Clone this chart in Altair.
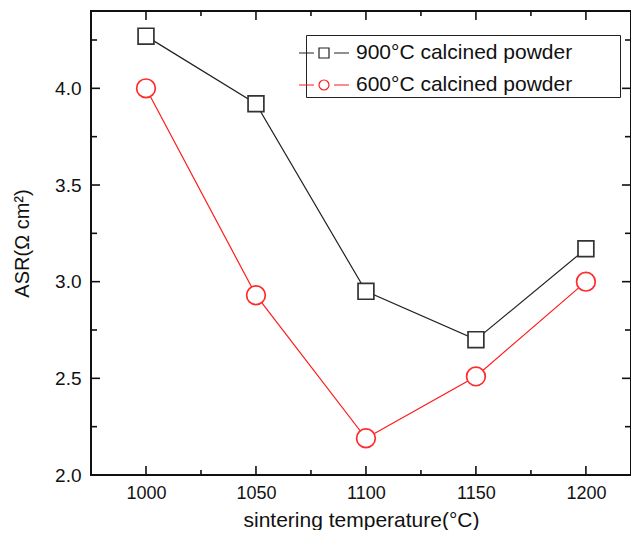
import altair as alt
import pandas as pd

temps = [1000, 1050, 1100, 1150, 1200]
asr_900 = [4.27, 3.92, 2.95, 2.70, 3.17]
asr_600 = [4.00, 2.93, 2.19, 2.51, 3.00]
series_names = ["900°C calcined powder", "600°C calcined powder"]
x_major = [1000, 1050, 1100, 1150, 1200]
x_minor = [1025, 1075, 1125, 1175]
y_major = [2.0, 2.5, 3.0, 3.5, 4.0]
y_minor = [2.25, 2.75, 3.25, 3.75, 4.25]

rows = []
for name, vals in zip(series_names, [asr_900, asr_600]):
    for t, v in zip(temps, vals):
        rows.append({"temp": t, "asr": v, "series": name})
df = pd.DataFrame(rows)

W, H = 540, 464
FONT = "Liberation Sans"
TXT = "#111111"
xscale = alt.Scale(domain=[975, 1220.5], nice=False, zero=False)
yscale = alt.Scale(domain=[2.0, 4.4], nice=False, zero=False)

line_colors = ["#222222", "#ff1a1a"]
marker_colors = ["#333333", "#ff2a2a"]

x_axis = alt.Axis(values=x_major, format="d", title="sintering temperature(°C)",
                  ticks=False, tickSize=0, domain=False, grid=False,
                  labelFont=FONT, labelFontSize=18, labelColor=TXT,
                  labelPadding=9, labelFlush=False,
                  titleFont=FONT, titleFontSize=21, titleFontWeight="normal",
                  titleColor=TXT, titlePadding=7)
y_axis = alt.Axis(values=y_major, format=".1f", title="ASR(Ω cm²)",
                  ticks=False, tickSize=0, domain=False, grid=False,
                  labelFont=FONT, labelFontSize=19, labelColor=TXT,
                  labelPadding=10, labelFlush=False,
                  titleFont=FONT, titleFontSize=20, titleFontWeight="normal",
                  titleColor=TXT, titlePadding=22)


def xe():
    return alt.X("temp:Q", scale=xscale, axis=x_axis)


def ye():
    return alt.Y("asr:Q", scale=yscale, axis=y_axis)


lines = alt.Chart(df).mark_line(strokeWidth=1.2).encode(
    x=xe(), y=ye(),
    stroke=alt.Stroke("series:N", scale=alt.Scale(domain=series_names, range=line_colors), legend=None),
    detail="series:N",
)

points = alt.Chart(df).mark_point(filled=False, fill="white", fillOpacity=1, opacity=1, strokeWidth=1.7).encode(
    x=xe(), y=ye(),
    stroke=alt.Stroke("series:N", scale=alt.Scale(domain=series_names, range=marker_colors), legend=None),
    shape=alt.Shape("series:N", scale=alt.Scale(domain=series_names, range=["square", "circle"]), legend=None),
    size=alt.Size("series:N", scale=alt.Scale(domain=series_names, range=[250, 350]), legend=None),
)

sq_path = "M-1.667,0H-0.667M0.667,0H1.667M-0.333,-0.333H0.333V0.333H-0.333Z"
ci_path = ("M-1.667,0H-0.667M0.667,0H1.667M0.333,0"
           "A0.333,0.333,0,1,1,-0.333,0A0.333,0.333,0,1,1,0.333,0Z")
legend_props = dict(
    orient="none", legendX=215, legendY=24,
    title="MM", titleOrient="right", titleOpacity=0, titleFontSize=20,
    titlePadding=12, titleFont=FONT,
    strokeColor="#222222", fillColor="white", padding=2,
    symbolSize=900, symbolStrokeWidth=1.2, symbolOpacity=1,
    labelFont=FONT, labelFontSize=21, labelColor=TXT, labelOffset=16,
    labelLimit=500, rowPadding=6,
)
legend_layer = alt.Chart(df).mark_point(opacity=0, filled=False).encode(
    x=xe(), y=ye(),
    stroke=alt.Stroke("series:N", scale=alt.Scale(domain=series_names, range=line_colors),
                      legend=alt.Legend(**legend_props)),
    shape=alt.Shape("series:N", scale=alt.Scale(domain=series_names, range=[sq_path, ci_path]),
                    legend=alt.Legend(**legend_props)),
)


def tick_layer(vals, channel, side, length):
    if channel == "y":
        d = pd.DataFrame({"asr": vals})
        enc = dict(y=ye())
        if side == "left":
            enc.update(x=alt.value(0), x2=alt.value(length))
        else:
            enc.update(x=alt.value(W - length), x2=alt.value(W))
    else:
        d = pd.DataFrame({"temp": vals})
        enc = dict(x=xe())
        if side == "bottom":
            enc.update(y=alt.value(H - length), y2=alt.value(H))
        else:
            enc.update(y=alt.value(0), y2=alt.value(length))
    return alt.Chart(d).mark_rule(color="#111111", strokeWidth=1.6).encode(**enc)


ticks = [
    tick_layer(y_major, "y", "left", 9), tick_layer(y_minor, "y", "left", 6),
    tick_layer(y_major, "y", "right", 9), tick_layer(y_minor, "y", "right", 6),
    tick_layer(x_major, "x", "bottom", 9), tick_layer(x_minor, "x", "bottom", 5),
    tick_layer(x_major, "x", "top", 9), tick_layer(x_minor, "x", "top", 5),
]

chart = alt.layer(lines, points, legend_layer, *ticks).resolve_scale(
    stroke="independent", shape="independent", size="independent"
).properties(
    width=W, height=H,
    background="white",
    autosize=alt.AutoSizeParams(type="none"),
    padding={"left": 83, "top": 3, "right": 0, "bottom": 55},
).configure_view(stroke="#111111", strokeWidth=2)

chart.save("out.html", embed_options={"renderer": "svg", "actions": False})
